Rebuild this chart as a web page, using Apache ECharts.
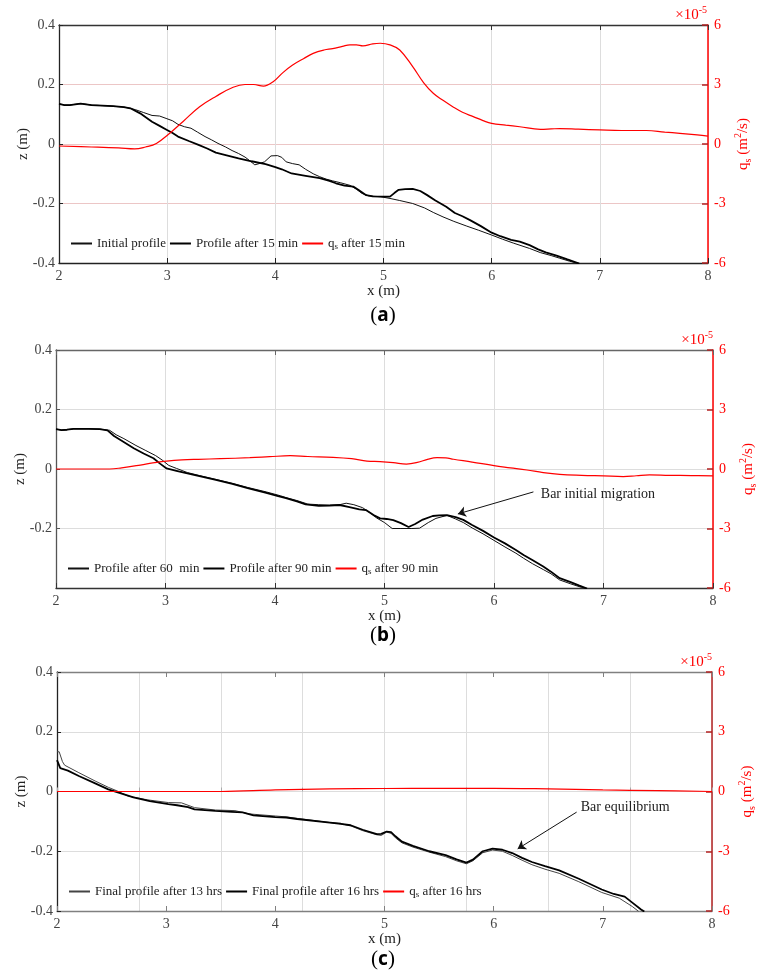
<!DOCTYPE html>
<html>
<head>
<meta charset="utf-8">
<script src="https://cdn.jsdelivr.net/npm/echarts@6/dist/echarts.min.js"></script>
<style>
  html, body { margin: 0; padding: 0; background: #fff; }
  #chart { width: 758px; height: 974px; }
</style>
</head>
<body>
<div id="chart"></div>
<script>
// ---- data (x in m, z in m, qs in 1e-5 m2/s as read on the right axis) ----
var xTicks = [2, 3, 4, 5, 6, 7, 8];
var zTicks = [-0.4, -0.2, 0, 0.2, 0.4];
var qsTicks = [-6, -3, 0, 3, 6];

// (a)
var initialA = [[2,0.135],[2.05,0.131],[2.1,0.131],[2.2,0.136],[2.3,0.131],[2.4,0.129],[2.5,0.127],[2.6,0.124],[2.66,0.12],[2.71,0.115],[2.78,0.106],[2.86,0.096],[2.93,0.094],[2.99,0.086],[3.05,0.078],[3.1,0.066],[3.16,0.058],[3.22,0.053],[3.28,0.04],[3.35,0.025],[3.41,0.014],[3.47,0.002],[3.54,-0.01],[3.6,-0.022],[3.66,-0.032],[3.72,-0.044],[3.77,-0.058],[3.81,-0.07],[3.85,-0.066],[3.9,-0.06],[3.96,-0.04],[4.02,-0.039],[4.06,-0.045],[4.1,-0.06],[4.16,-0.066],[4.22,-0.07],[4.28,-0.085],[4.35,-0.1],[4.41,-0.11],[4.47,-0.118],[4.53,-0.124],[4.6,-0.13],[4.69,-0.139],[4.75,-0.152],[4.8,-0.166],[4.86,-0.174],[4.92,-0.176],[4.97,-0.177],[5.06,-0.183],[5.15,-0.19],[5.27,-0.2],[5.38,-0.215],[5.46,-0.23],[5.55,-0.245],[5.65,-0.26],[5.77,-0.276],[5.88,-0.29],[6.0,-0.306],[6.1,-0.32],[6.2,-0.333],[6.35,-0.351],[6.45,-0.365],[6.55,-0.375],[6.63,-0.384],[6.72,-0.394],[6.81,-0.402]];
var profile15A = [[2,0.135],[2.05,0.131],[2.1,0.131],[2.2,0.136],[2.3,0.131],[2.4,0.129],[2.5,0.127],[2.6,0.124],[2.66,0.12],[2.75,0.103],[2.86,0.075],[2.93,0.061],[2.99,0.049],[3.05,0.037],[3.1,0.025],[3.2,0.01],[3.29,-0.003],[3.37,-0.015],[3.45,-0.029],[3.55,-0.038],[3.66,-0.048],[3.78,-0.058],[3.91,-0.068],[4.0,-0.078],[4.06,-0.085],[4.15,-0.099],[4.28,-0.107],[4.41,-0.115],[4.5,-0.124],[4.56,-0.132],[4.64,-0.14],[4.72,-0.143],[4.77,-0.155],[4.84,-0.172],[4.9,-0.176],[4.97,-0.177],[5.06,-0.177],[5.1,-0.165],[5.14,-0.154],[5.2,-0.152],[5.27,-0.151],[5.34,-0.158],[5.4,-0.171],[5.48,-0.19],[5.58,-0.211],[5.66,-0.232],[5.73,-0.243],[5.8,-0.256],[5.9,-0.276],[6.0,-0.298],[6.08,-0.31],[6.18,-0.322],[6.26,-0.328],[6.35,-0.34],[6.43,-0.354],[6.5,-0.364],[6.6,-0.375],[6.7,-0.388],[6.81,-0.402]];
var qs15A = [[2,-0.1],[2.3,-0.15],[2.55,-0.2],[2.7,-0.25],[2.8,-0.15],[2.9,0.03],[3.03,0.57],[3.15,1.15],[3.3,1.88],[3.45,2.4],[3.61,2.86],[3.72,3.0],[3.8,3.0],[3.89,2.92],[3.98,3.14],[4.07,3.6],[4.16,3.98],[4.26,4.3],[4.35,4.57],[4.45,4.74],[4.53,4.81],[4.62,4.92],[4.69,5.0],[4.75,5.0],[4.81,4.95],[4.9,5.05],[4.97,5.08],[5.06,5.0],[5.15,4.74],[5.27,3.9],[5.37,3.1],[5.46,2.56],[5.55,2.2],[5.64,1.88],[5.73,1.6],[5.83,1.38],[5.92,1.18],[6.0,1.04],[6.13,0.95],[6.26,0.87],[6.45,0.74],[6.55,0.76],[6.63,0.78],[6.8,0.75],[7.0,0.71],[7.2,0.68],[7.43,0.68],[7.6,0.6],[7.74,0.54],[7.9,0.46],[8,0.4]];

// (b)
var profile60B = [[2,0.134],[2.05,0.131],[2.1,0.132],[2.16,0.135],[2.22,0.135],[2.3,0.135],[2.4,0.134],[2.49,0.13],[2.55,0.115],[2.62,0.102],[2.73,0.079],[2.82,0.062],[2.91,0.045],[2.97,0.03],[3.03,0.012],[3.1,0.002],[3.2,-0.012],[3.31,-0.022],[3.45,-0.034],[3.61,-0.048],[3.75,-0.062],[3.92,-0.077],[4.05,-0.09],[4.1,-0.096],[4.2,-0.106],[4.3,-0.118],[4.4,-0.12],[4.5,-0.121],[4.59,-0.12],[4.65,-0.115],[4.72,-0.12],[4.8,-0.13],[4.86,-0.145],[4.93,-0.165],[5.0,-0.18],[5.07,-0.2],[5.15,-0.2],[5.25,-0.2],[5.32,-0.199],[5.4,-0.18],[5.47,-0.166],[5.57,-0.156],[5.65,-0.168],[5.72,-0.18],[5.8,-0.198],[5.9,-0.218],[6.0,-0.24],[6.1,-0.262],[6.2,-0.283],[6.27,-0.3],[6.35,-0.318],[6.45,-0.338],[6.52,-0.352],[6.6,-0.373],[6.7,-0.386],[6.8,-0.398],[6.84,-0.402]];
var profile90B = [[2,0.134],[2.05,0.131],[2.1,0.132],[2.16,0.135],[2.22,0.135],[2.3,0.135],[2.4,0.134],[2.47,0.13],[2.53,0.111],[2.6,0.095],[2.71,0.07],[2.8,0.052],[2.89,0.036],[2.95,0.018],[3.01,0.002],[3.1,-0.006],[3.19,-0.014],[3.31,-0.024],[3.45,-0.036],[3.61,-0.05],[3.75,-0.064],[3.92,-0.08],[4.02,-0.09],[4.1,-0.098],[4.2,-0.109],[4.28,-0.119],[4.4,-0.124],[4.5,-0.123],[4.59,-0.121],[4.68,-0.128],[4.77,-0.136],[4.83,-0.138],[4.9,-0.155],[4.96,-0.166],[5.02,-0.168],[5.08,-0.172],[5.15,-0.182],[5.22,-0.195],[5.28,-0.185],[5.35,-0.17],[5.44,-0.158],[5.5,-0.156],[5.57,-0.155],[5.65,-0.162],[5.72,-0.171],[5.8,-0.188],[5.9,-0.208],[6.0,-0.23],[6.1,-0.25],[6.2,-0.272],[6.27,-0.289],[6.35,-0.306],[6.45,-0.328],[6.52,-0.345],[6.6,-0.367],[6.7,-0.38],[6.78,-0.392],[6.85,-0.402]];
var qs90B = [[2,0],[2.3,0],[2.49,0],[2.6,0.06],[2.77,0.2],[2.9,0.32],[3.01,0.4],[3.15,0.46],[3.3,0.49],[3.5,0.52],[3.77,0.57],[3.95,0.62],[4.14,0.67],[4.3,0.63],[4.53,0.59],[4.7,0.52],[4.84,0.4],[4.96,0.37],[5.08,0.32],[5.2,0.25],[5.3,0.33],[5.4,0.5],[5.48,0.57],[5.56,0.56],[5.63,0.49],[5.8,0.35],[6.0,0.17],[6.15,0.06],[6.3,-0.05],[6.45,-0.18],[6.6,-0.27],[6.8,-0.32],[7.0,-0.35],[7.18,-0.38],[7.3,-0.34],[7.42,-0.3],[7.6,-0.32],[7.8,-0.33],[8,-0.35]];

// (c)
var profile13C = [[2,0.133],[2.02,0.133],[2.05,0.1],[2.07,0.088],[2.2,0.063],[2.35,0.035],[2.47,0.014],[2.55,0.002],[2.65,-0.015],[2.83,-0.028],[3.02,-0.037],[3.14,-0.038],[3.2,-0.046],[3.26,-0.054],[3.45,-0.062],[3.63,-0.064],[3.76,-0.075],[4.0,-0.082],[4.1,-0.085],[4.2,-0.09],[4.5,-0.104],[4.6,-0.108],[4.69,-0.115],[4.8,-0.131],[4.93,-0.145],[4.97,-0.147],[5.02,-0.136],[5.06,-0.14],[5.1,-0.155],[5.16,-0.172],[5.26,-0.186],[5.41,-0.203],[5.56,-0.218],[5.66,-0.232],[5.75,-0.242],[5.81,-0.232],[5.9,-0.205],[5.99,-0.196],[6.08,-0.2],[6.17,-0.214],[6.26,-0.23],[6.35,-0.245],[6.47,-0.26],[6.6,-0.274],[6.78,-0.302],[6.99,-0.338],[7.15,-0.357],[7.27,-0.385],[7.33,-0.402]];
var profile16C = [[2,0.105],[2.03,0.078],[2.1,0.07],[2.2,0.052],[2.35,0.027],[2.47,0.007],[2.6,-0.008],[2.7,-0.02],[2.85,-0.032],[3.02,-0.042],[3.1,-0.046],[3.2,-0.052],[3.26,-0.06],[3.45,-0.065],[3.6,-0.068],[3.7,-0.07],[3.8,-0.08],[4.0,-0.086],[4.1,-0.087],[4.2,-0.092],[4.5,-0.104],[4.6,-0.108],[4.69,-0.113],[4.8,-0.128],[4.93,-0.143],[4.97,-0.142],[5.02,-0.134],[5.06,-0.136],[5.1,-0.15],[5.16,-0.168],[5.26,-0.182],[5.41,-0.2],[5.56,-0.213],[5.66,-0.227],[5.75,-0.238],[5.81,-0.228],[5.9,-0.2],[5.99,-0.191],[6.08,-0.195],[6.17,-0.206],[6.26,-0.222],[6.35,-0.236],[6.47,-0.25],[6.6,-0.264],[6.78,-0.292],[6.99,-0.328],[7.1,-0.343],[7.2,-0.352],[7.27,-0.372],[7.35,-0.395],[7.38,-0.402]];
var qs16C = [[2,0],[3.5,0],[4.0,0.08],[4.5,0.13],[5.0,0.15],[5.5,0.16],[6.0,0.16],[6.5,0.13],[7.0,0.08],[7.5,0.04],[8,0]];

// annotations (data coords)
var arrowB = [[6.36, -0.077], [5.67, -0.151]];
var arrowC = [[6.76, -0.069], [6.22, -0.192]];

(function () {
  var myChart = echarts.init(document.getElementById("chart"));
  var FONT = "Liberation Serif";
  var RED = "#ff0000";

  var grids = [
    { left: 59, right: 50, top: 25, height: 238, outerBoundsMode: "none" },
    { left: 56, right: 45, top: 350, height: 238, outerBoundsMode: "none" },
    { left: 57, right: 46, top: 672, height: 239, outerBoundsMode: "none" }
  ];

  function bottomX(gi, color, split) {
    return {
      type: "value", gridIndex: gi, position: "bottom",
      min: xTicks[0], max: xTicks[xTicks.length - 1], interval: 1,
      name: "x (m)", nameLocation: "middle", nameGap: 21,
      nameTextStyle: { fontFamily: FONT, fontSize: 15, color: "#222" },
      axisLine: { show: true, onZero: false, lineStyle: { color: color, width: 1.3 } },
      axisTick: { show: true, inside: true, length: 5, lineStyle: { color: color } },
      axisLabel: { fontFamily: FONT, fontSize: 14, color: "#444", margin: 6 },
      splitLine: { show: split, lineStyle: { color: "#dddddd", width: 1 } }
    };
  }
  function topX(gi, color) {
    return {
      type: "value", gridIndex: gi, position: "top", min: 2, max: 8, interval: 1,
      axisLine: { show: true, onZero: false, lineStyle: { color: color, width: 1.3 } },
      axisTick: { show: true, inside: true, length: 5, lineStyle: { color: color } },
      axisLabel: { show: false }, splitLine: { show: false }
    };
  }
  function leftY(gi, color, split, hideMin) {
    return {
      type: "value", gridIndex: gi, position: "left",
      min: zTicks[0], max: zTicks[zTicks.length - 1], interval: 0.2,
      name: "z (m)", nameLocation: "middle", nameGap: 28, nameRotate: 90,
      nameMoveOverlap: false,
      nameTextStyle: { fontFamily: FONT, fontSize: 15, color: "#222" },
      axisLine: { show: true, onZero: false, lineStyle: { color: color, width: 1.3 } },
      axisTick: { show: true, inside: true, length: 4, lineStyle: { color: color } },
      axisLabel: { fontFamily: FONT, fontSize: 14, color: "#444", margin: 4, showMinLabel: !hideMin },
      splitLine: { show: split, lineStyle: { color: "#dddddd", width: 1 } }
    };
  }
  function rightY(gi, color, split) {
    return {
      type: "value", gridIndex: gi, position: "right",
      min: qsTicks[0], max: qsTicks[qsTicks.length - 1], interval: 3,
      name: "{t|q}{s|s}{t| (m}{p|2}{t|/s)}", nameLocation: "middle", nameGap: 25, nameRotate: 90,
      nameMoveOverlap: false,
      nameTextStyle: {
        fontFamily: FONT, fontSize: 15, color: RED,
        rich: {
          t: { fontFamily: FONT, fontSize: 15, color: RED, lineHeight: 20 },
          s: { fontFamily: FONT, fontSize: 10, color: RED, lineHeight: 20, verticalAlign: "bottom" },
          p: { fontFamily: FONT, fontSize: 10, color: RED, lineHeight: 20, verticalAlign: "top" }
        }
      },
      axisLine: { show: true, onZero: false, lineStyle: { color: color, width: 1.5 } },
      axisTick: { show: true, inside: true, length: 6, lineStyle: { color: "#b22222", width: 1.5 } },
      axisLabel: { fontFamily: FONT, fontSize: 14, color: RED, margin: 6 },
      splitLine: { show: split, lineStyle: { color: "#ecc6c6", width: 1 } }
    };
  }

  var xc = bottomX(2, "#808080", false);
  var xc2 = {
    type: "value", gridIndex: 2, position: "bottom", min: 2, max: 8, interval: 0.75,
    axisLine: { show: false }, axisLabel: { show: false },
    axisTick: { show: true, inside: true, length: 4, lineStyle: { color: "#aaaaaa" } },
    splitLine: { show: true, lineStyle: { color: "#dddddd", width: 1 } }
  };

  var xAxis = [bottomX(0, "#222", true), topX(0, "#333"),
               bottomX(1, "#333", true), topX(1, "#666"),
               xc, topX(2, "#808080"), xc2];
  var yAxis = [leftY(0, "#222", false, false), rightY(0, RED, true),
               leftY(1, "#555", true, true), rightY(1, RED, false),
               leftY(2, "#222", true, false), rightY(2, "#b22222", false)];

  function line(name, xi, yi, data, color, width, smooth) {
    return {
      name: name, type: "line", xAxisIndex: xi, yAxisIndex: yi, data: data,
      symbol: "none", smooth: smooth || false, animation: false,
      lineStyle: { color: color, width: width }, itemStyle: { color: color }
    };
  }

  function arrow(pts) {
    return {
      silent: true, symbol: ["none", "arrow"], symbolSize: 8,
      lineStyle: { color: "#111", width: 1, type: "solid" },
      label: { show: false },
      data: [[{ coord: pts[0] }, { coord: pts[1] }]]
    };
  }
  function note(pt, text) {
    return {
      silent: true,
      data: [{
        coord: pt, symbol: "circle", symbolSize: 0,
        label: { show: true, position: "right", distance: 3, formatter: text,
                 fontFamily: FONT, fontSize: 14, color: "#222" }
      }]
    };
  }

  var sA1 = line("Initial profile", 0, 0, initialA, "#111", 1);
  var sA2 = line("Profile after 15 min", 0, 0, profile15A, "#000", 1.8);
  var sA3 = line("qs after 15 min", 0, 1, qs15A, RED, 1.2, 0.4);

  var sB1 = line("Profile after 60  min", 2, 2, profile60B, "#111", 1);
  var sB2 = line("Profile after 90 min", 2, 2, profile90B, "#000", 1.8);
  sB2.markLine = arrow(arrowB);
  sB2.markPoint = note([6.4, -0.084], "Bar initial migration");
  var sB3 = line("qs after 90 min", 2, 3, qs90B, RED, 1.2, 0.4);

  var sC1 = line("Final profile after 13 hrs", 4, 4, profile13C, "#444", 1);
  var sC2 = line("Final profile after 16 hrs", 4, 4, profile16C, "#000", 1.8);
  sC2.markLine = arrow(arrowC);
  sC2.markPoint = note([6.77, -0.052], "Bar equilibrium");
  var sC3 = line("qs after 16 hrs", 4, 5, qs16C, RED, 1.2, 0.4);

  function legend(names, left, top) {
    return {
      data: names, left: left, top: top, orient: "horizontal",
      itemWidth: 21, itemHeight: 8, itemGap: 3, padding: 0,
      selectedMode: false,
      itemStyle: { opacity: 0 },
      formatter: function (n) {
        if (n.indexOf("qs") === 0) return "{t|q}{s|s}{t|" + n.slice(2) + "}";
        return "{t|" + n + "}";
      },
      textStyle: {
        fontFamily: FONT, fontSize: 13, color: "#222",
        rich: {
          t: { fontFamily: FONT, fontSize: 13, color: "#222", lineHeight: 16 },
          s: { fontFamily: FONT, fontSize: 9, color: "#222", lineHeight: 16, verticalAlign: "bottom" }
        }
      }
    };
  }

  function panelTitle(letter, top) {
    return {
      text: "{p|(}{b|" + letter + "}{p|)}", left: 378, top: top, textAlign: "center",
      textStyle: {
        rich: {
          p: { fontFamily: FONT, fontWeight: "normal", fontSize: 21, color: "#000" },
          b: { fontFamily: "Noto Sans", fontWeight: "bold", fontSize: 19, color: "#000" }
        }
      }
    };
  }
  function expTitle(right, top) {
    return {
      text: "{t|×10}{p|-5}", right: right, top: top, padding: 0,
      textStyle: {
        rich: {
          t: { fontFamily: FONT, fontWeight: "normal", fontSize: 15, color: RED, lineHeight: 18, verticalAlign: "bottom" },
          p: { fontFamily: FONT, fontWeight: "normal", fontSize: 10, color: RED, lineHeight: 18, verticalAlign: "top" }
        }
      }
    };
  }

  var option = {
    backgroundColor: "#fff",
    animation: false,
    grid: grids,
    xAxis: xAxis,
    yAxis: yAxis,
    title: [
      panelTitle("a", 300), panelTitle("b", 620), panelTitle("c", 944),
      expTitle(51, 5), expTitle(45, 330), expTitle(46, 652)
    ],
    legend: [
      legend(["Initial profile", "Profile after 15 min", "qs after 15 min"], 70, 237),
      legend(["Profile after 60  min", "Profile after 90 min", "qs after 90 min"], 67, 562),
      legend(["Final profile after 13 hrs", "Final profile after 16 hrs", "qs after 16 hrs"], 68, 885)
    ],
    series: [sA1, sA2, sA3, sB1, sB2, sB3, sC1, sC2, sC3]
  };

  myChart.setOption(option);
  window.addEventListener("resize", function () {
    myChart.resize();
  });
})();
</script>
</body>
</html>
